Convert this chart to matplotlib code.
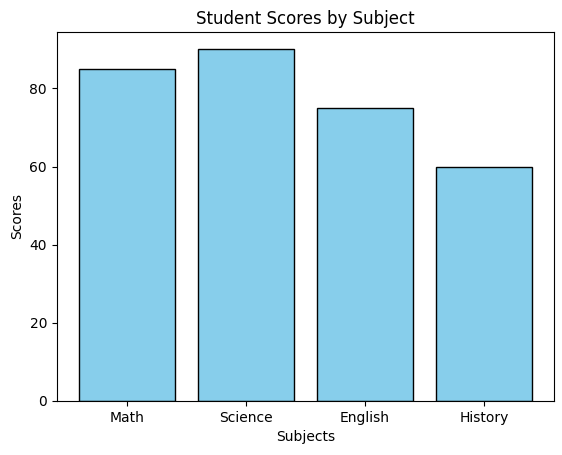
import matplotlib
matplotlib.use("Agg")
import matplotlib.pyplot as plt

subjects = ["Math", "Science", "English", "History"]
scores = [85, 90, 75, 60]

fig = plt.figure(figsize=(5.62, 4.55), dpi=100)
ax = fig.add_axes([0.101, 0.119, 0.885, 0.811])
ax.bar(subjects, scores, color="skyblue", edgecolor="black")
ax.set_title("Student Scores by Subject")
ax.set_xlabel("Subjects")
ax.set_ylabel("Scores")
fig.savefig("out.png", dpi=100)
